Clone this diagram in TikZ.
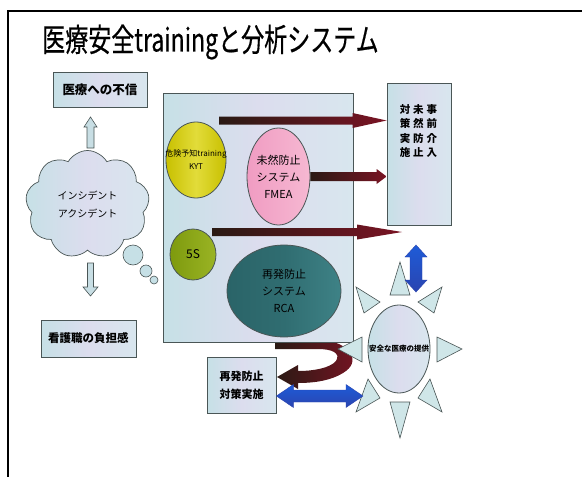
\documentclass[tikz,border=0pt]{standalone}
\usepackage{fontspec}
\setmainfont{Noto Sans CJK JP}
\usetikzlibrary{shapes.geometric,shapes.symbols,calc}
\definecolor{boxfillA}{HTML}{C6E0E6}
\definecolor{boxfillB}{HTML}{D8E6EE}
\definecolor{boxmid}{HTML}{DCDDEE}
\definecolor{edge}{HTML}{4A5656}
\definecolor{kytA}{HTML}{C8C000}
\definecolor{kytB}{HTML}{E2DC3A}
\definecolor{pinkA}{HTML}{F09CC2}
\definecolor{pinkB}{HTML}{F6B8D2}
\definecolor{grnA}{HTML}{7E9A0E}
\definecolor{grnB}{HTML}{9AB424}
\definecolor{tealA}{HTML}{2A6468}
\definecolor{tealB}{HTML}{3E8286}
\definecolor{redA}{HTML}{2A1A14}
\definecolor{redB}{HTML}{7A1424}
\definecolor{bluA}{HTML}{1E5CD8}
\definecolor{bluB}{HTML}{2A44B0}
\definecolor{triF}{HTML}{CFE6E8}
\definecolor{hollow}{HTML}{C8DEE4}
\tikzset{
  lbox/.style={draw=edge, line width=0.8pt, left color=boxfillA, right color=boxfillB, middle color=boxmid, inner sep=0pt},
  ell/.style={ellipse, draw=edge, line width=0.8pt, inner sep=0pt},
  darkarrow/.style={left color=redA, right color=redB},
  bluearrow/.style={top color=bluA, bottom color=bluB, draw=bluB, line width=0.4pt},
  hollowarrow/.style={fill=hollow, draw=edge, line width=0.6pt},
  ray/.style={fill=triF, draw=edge, line width=0.6pt},
  vcol/.style={align=center, inner sep=0pt, font=\bfseries\fontsize{10.5}{14.5}\selectfont},
}
\newcommand\vsp{\hspace{3pt}}
% horizontal block arrow: style, start, end, shaft half, head half, head length
\newcommand\hblock[6]{%
  \path[#1] let \p1=(#2), \p2=(#3) in
    (\x1,\y1-#4) -- (\x2-#6,\y1-#4) -- (\x2-#6,\y1-#5) -- (\x2,\y1)
    -- (\x2-#6,\y1+#5) -- (\x2-#6,\y1+#4) -- (\x1,\y1+#4) -- cycle;}
% horizontal double block arrow
\newcommand\hdouble[6]{%
  \path[#1] let \p1=(#2), \p2=(#3) in
    (\x1,\y1) -- (\x1+#6,\y1+#5) -- (\x1+#6,\y1+#4) -- (\x2-#6,\y1+#4) -- (\x2-#6,\y1+#5) -- (\x2,\y1)
    -- (\x2-#6,\y1-#5) -- (\x2-#6,\y1-#4) -- (\x1+#6,\y1-#4) -- (\x1+#6,\y1-#5) -- cycle;}
% vertical double block arrow
\newcommand\vdouble[6]{%
  \path[#1] let \p1=(#2), \p2=(#3) in
    (\x1,\y1) -- (\x1+#5,\y1-#6) -- (\x1+#4,\y1-#6) -- (\x1+#4,\y2+#6) -- (\x1+#5,\y2+#6) -- (\x1,\y2)
    -- (\x1-#5,\y2+#6) -- (\x1-#4,\y2+#6) -- (\x1-#4,\y1-#6) -- (\x1-#5,\y1-#6) -- cycle;}
% vertical single block arrow (from #2 to #3)
\newcommand\vblock[6]{%
  \path[#1] let \p1=(#2), \p2=(#3), \n1={ifthenelse(\y2>\y1,1,-1)} in
    (\x1-#4,\y1) -- (\x1-#4,\y2-\n1*#6) -- (\x1-#5,\y2-\n1*#6) -- (\x1,\y2)
    -- (\x1+#5,\y2-\n1*#6) -- (\x1+#4,\y2-\n1*#6) -- (\x1+#4,\y1) -- cycle;}
\begin{document}
\begin{tikzpicture}[x=1pt,y=-1pt]
\useasboundingbox (0,0) rectangle (582,477);
\fill[white] (0,0) rectangle (582,477);
% frame
\draw[line width=2pt] (582,11) -- (8,11) -- (8,477);
% title
\node[anchor=west, inner sep=0pt] (title) at (42,42) {\scalebox{0.72}[1]{\fontsize{32}{32}\selectfont\addfontfeature{FakeBold=0.6}医療安全trainingと分析システム}};

% left side
\node[lbox, minimum width=94pt, minimum height=35pt, font=\bfseries\fontsize{12.5}{14}\selectfont] (distrust) at (100,89.5) {医療への不信};
\node[cloud, cloud puffs=9, cloud puff arc=120, aspect=1.15, draw=edge, line width=0.7pt,
      left color=boxfillA, right color=boxfillB, middle color=boxmid,
      minimum width=124pt, minimum height=108pt, inner sep=0pt] (cloud) at (87.5,204.5) {};
\node[align=center, font=\fontsize{10}{18}\selectfont] at (cloud.center) {インシデント\\アクシデント};
\draw[edge, line width=0.6pt, fill=boxfillA] (133,255) circle (10);
\draw[edge, line width=0.6pt, fill=boxfillA] (146,271) circle (6);
\draw[edge, line width=0.6pt, fill=boxfillA] (154,280) circle (4);
\coordinate (ua) at (90.5,148);
\coordinate (ub) at (90.5,117);
\vblock{hollowarrow}{ua}{ub}{3.5pt}{6.5pt}{10pt}
\coordinate (da) at (90.5,263);
\coordinate (db) at (90.5,296);
\vblock{hollowarrow}{da}{db}{3pt}{7.5pt}{9pt}
\node[lbox, minimum width=95pt, minimum height=37pt, font=\bfseries\fontsize{11.5}{14}\selectfont] (burden) at (88.5,338.5) {看護職の負担感};

% curved dark arrow (behind main box)
\path[darkarrow] (275,337) -- (318,339) .. controls (352,342) and (362,362) .. (343,373)
  .. controls (332,380) and (316,383) .. (298,383) -- (298,389) -- (277,377) -- (298,365) -- (298,371)
  .. controls (314,371) and (330,368) .. (336,361) .. controls (341,353) and (332,349) .. (318,349)
  -- (275,349) -- cycle;

% main box
\node[lbox, minimum width=190pt, minimum height=249pt] (main) at (258,217.5) {};
\node[ell, minimum width=60pt, minimum height=76pt, left color=kytA, right color=kytA, middle color=kytB] (kyt) at (196,160) {};
\node[align=center, font=\fontsize{8}{13}\selectfont] at (kyt.center) {危険予知training\\KYT};
\node[ell, minimum width=63pt, minimum height=97pt, left color=pinkA, right color=pinkB] (fmea) at (278.5,176.5) {};
\node[align=center, font=\fontsize{11}{17}\selectfont] at (fmea.center) {未然防止\\システム\\FMEA};
\node[ell, minimum width=46pt, minimum height=51pt, left color=grnA, right color=grnB, font=\fontsize{12}{14}\selectfont] (ss) at (193,254.5) {5S};
\node[ell, minimum width=114pt, minimum height=92pt, left color=tealA, right color=tealB, middle color=tealA!70!tealB] (rca) at (284,291) {};
\node[align=center, font=\fontsize{11}{17}\selectfont] at (rca.center) {再発防止\\システム\\RCA};

% right box
\node[lbox, minimum width=64pt, minimum height=142pt] (act) at (419,154) {};
\node[vcol] (vtext) at (418.5,131) {対\vsp 未\vsp 事\\策\vsp 然\vsp 前\\実\vsp 防\vsp 介\\施\vsp 止\vsp 入};

% dark arrows
\coordinate (a1s) at (219,120.5);
\coordinate (a1e) at (act.west |- a1s);
\hblock{darkarrow}{a1s}{a1e}{4pt}{7.5pt}{34pt}
\coordinate (a2s) at (fmea.east);
\coordinate (a2e) at (act.west |- a2s);
\hblock{darkarrow}{a2s}{a2e}{4.5pt}{7.5pt}{10pt}
\coordinate (a3s) at (212,232);
\coordinate (a3e) at (402,232);
\hblock{darkarrow}{a3s}{a3e}{4pt}{7.5pt}{45pt}

% sun
\foreach \a/\b/\c in {{390,295}/{410,295}/{400,262},
                      {390,402}/{410,402}/{400,438},
                      {362,337}/{362,362}/{338,349},
                      {437,337}/{437,362}/{462,349},
                      {356,287}/{380,302}/{364,313},
                      {442,287}/{418,302}/{434,313},
                      {368,379}/{356,412}/{380,398},
                      {430,379}/{442,412}/{418,398}}
  \draw[ray] (\a) -- (\b) -- (\c) -- cycle;
\node[ell, minimum width=62pt, minimum height=88pt, left color=boxfillA, right color=boxfillB, middle color=boxmid] (sun) at (399,349) {};
\node[font=\bfseries\fontsize{7.5}{9}\selectfont] at (sun.center) {安全な医療の提供};

% bottom box
\node[lbox, minimum width=69pt, minimum height=56pt, align=center, font=\bfseries\fontsize{11}{18}\selectfont] (rbox) at (241.5,385) {再発防止\\対策実施};

% blue arrows
\coordinate (b1s) at (rbox.east |- 0,396);
\coordinate (b1e) at (363,396);
\hdouble{bluearrow}{b1s}{b1e}{6pt}{11.5pt}{17pt}
\coordinate (b2s) at (416,245);
\coordinate (b2e) at (416,292);
\vdouble{bluearrow}{b2s}{b2e}{6pt}{11pt}{12pt}
\end{tikzpicture}
\end{document}
